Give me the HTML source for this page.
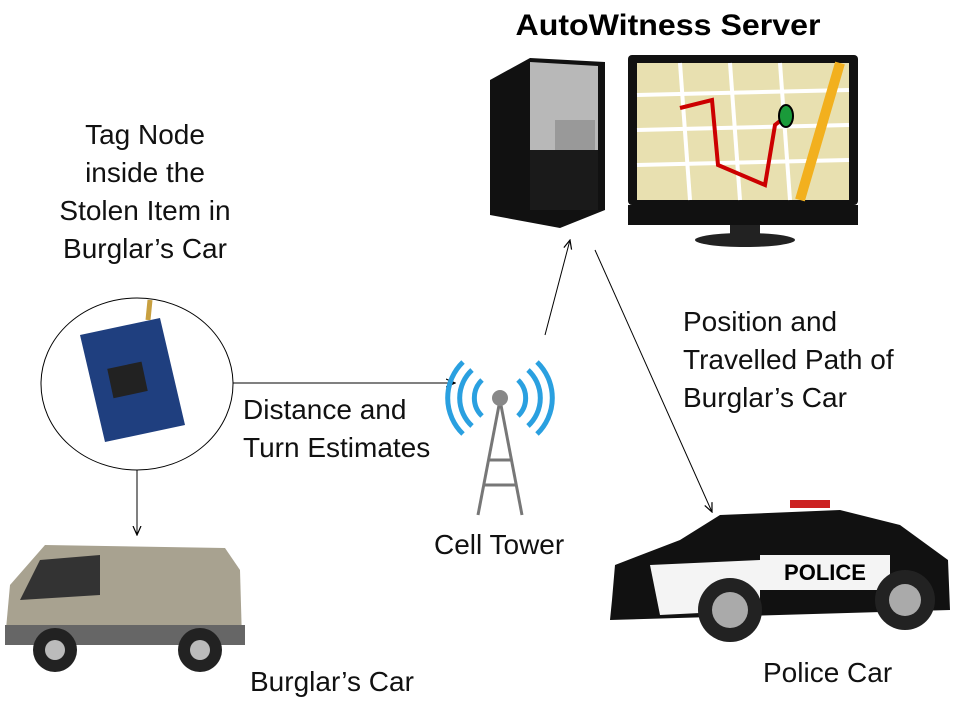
<!DOCTYPE html>
<html><head><meta charset="utf-8"><style>
body{margin:0;width:960px;height:720px;background:#fff;overflow:hidden;font-family:"Liberation Sans",sans-serif;}
.t{position:absolute;font-size:28px;color:#111;white-space:nowrap;line-height:38px;}
</style></head><body>
<svg width="960" height="720" style="position:absolute;left:0;top:0">
<defs><marker id="a" markerWidth="10" markerHeight="10" refX="9" refY="5" orient="auto"><path d="M0,1 L9,5 L0,9" fill="none" stroke="#000" stroke-width="1.2"/></marker></defs>
<text x="668" y="35" font-size="30" font-weight="bold" text-anchor="middle" font-family="Liberation Sans" textLength="305" lengthAdjust="spacingAndGlyphs">AutoWitness Server</text>
<!-- server tower -->
<polygon points="490,80 530,58 605,62 605,210 560,228 490,215" fill="#111"/>
<polygon points="530,62 598,66 598,150 530,150" fill="#b8b8b8"/>
<rect x="530" y="150" width="68" height="60" fill="#1a1a1a"/>
<rect x="555" y="120" width="40" height="30" fill="#999"/>
<!-- monitor -->
<rect x="628" y="55" width="230" height="150" rx="4" fill="#111"/>
<rect x="637" y="63" width="212" height="137" fill="#e8e0b0"/>
<g stroke="#fff" stroke-width="4"><line x1="637" y1="95" x2="849" y2="90"/><line x1="637" y1="130" x2="849" y2="125"/><line x1="637" y1="165" x2="849" y2="160"/><line x1="680" y1="63" x2="690" y2="200"/><line x1="730" y1="63" x2="740" y2="200"/><line x1="780" y1="63" x2="790" y2="200"/></g>
<line x1="800" y1="200" x2="840" y2="63" stroke="#f2b01e" stroke-width="10"/>
<polyline points="680,108 712,100 718,165 765,185 775,125 785,117" fill="none" stroke="#c00" stroke-width="4"/>
<ellipse cx="786" cy="116" rx="7" ry="11" fill="#1a9a3a" stroke="#000" stroke-width="2"/>
<rect x="628" y="205" width="230" height="20" fill="#111"/>
<rect x="730" y="225" width="30" height="12" fill="#222"/>
<ellipse cx="745" cy="240" rx="50" ry="7" fill="#222"/>
<!-- circle with chip -->
<ellipse cx="137" cy="384" rx="96" ry="86" fill="#fff" stroke="#000" stroke-width="1"/>
<polygon points="80,335 160,318 185,425 105,442" fill="#1f3f7f"/>
<rect x="110" y="365" width="35" height="30" fill="#222" transform="rotate(-12 127 380)"/>
<line x1="148" y1="320" x2="150" y2="300" stroke="#c8a040" stroke-width="5"/>
<!-- arrows -->
<line x1="233" y1="383" x2="455" y2="383" stroke="#000" marker-end="url(#a)"/>
<line x1="545" y1="335" x2="570" y2="240" stroke="#000" marker-end="url(#a)"/>
<line x1="595" y1="250" x2="712" y2="512" stroke="#000" marker-end="url(#a)"/>
<line x1="137" y1="470" x2="137" y2="535" stroke="#000" marker-end="url(#a)"/>
<!-- tower -->
<g stroke="#777" stroke-width="3" fill="none"><line x1="500" y1="400" x2="478" y2="515"/><line x1="500" y1="400" x2="522" y2="515"/><line x1="488" y1="460" x2="512" y2="460"/><line x1="484" y1="485" x2="516" y2="485"/></g>
<circle cx="500" cy="398" r="8" fill="#888"/>
<g stroke="#2aa0e0" stroke-width="5" fill="none"><path d="M482,380 A25,25 0 0 0 482,416"/><path d="M518,380 A25,25 0 0 1 518,416"/><path d="M472,370 A38,38 0 0 0 472,426"/><path d="M528,370 A38,38 0 0 1 528,426"/><path d="M463,362 A50,50 0 0 0 463,434"/><path d="M537,362 A50,50 0 0 1 537,434"/></g>
<!-- van -->
<path d="M5,640 L10,585 L45,545 L225,548 L240,570 L242,640 Z" fill="#a8a290"/>
<polygon points="40,560 100,555 100,595 20,600" fill="#333"/>
<rect x="5" y="625" width="240" height="20" fill="#666"/>
<circle cx="55" cy="650" r="22" fill="#222"/><circle cx="200" cy="650" r="22" fill="#222"/>
<circle cx="55" cy="650" r="10" fill="#bbb"/><circle cx="200" cy="650" r="10" fill="#bbb"/>
<!-- police car -->
<path d="M612,600 L615,565 L680,540 L720,515 L840,510 L900,525 L948,560 L950,610 L610,620 Z" fill="#111"/>
<path d="M650,565 L760,560 L760,610 L660,615 Z" fill="#f4f4f4"/>
<rect x="760" y="555" width="130" height="35" fill="#f4f4f4"/>
<text x="825" y="580" font-size="22" font-weight="bold" text-anchor="middle" font-family="Liberation Sans">POLICE</text>
<rect x="790" y="500" width="40" height="8" fill="#c22"/>
<circle cx="730" cy="610" r="32" fill="#222"/><circle cx="730" cy="610" r="18" fill="#aaa"/>
<circle cx="905" cy="600" r="30" fill="#222"/><circle cx="905" cy="600" r="16" fill="#aaa"/>
</svg>
<div class="t" style="left:35px;top:116px;width:220px;text-align:center">Tag Node<br>inside the<br>Stolen Item in<br>Burglar’s Car</div>
<div class="t" style="left:243px;top:391px">Distance and<br>Turn Estimates</div>
<div class="t" style="left:683px;top:303px">Position and<br>Travelled Path of<br>Burglar’s Car</div>
<div class="t" style="left:434px;top:526px">Cell Tower</div>
<div class="t" style="left:250px;top:663px">Burglar’s Car</div>
<div class="t" style="left:763px;top:654px">Police Car</div>
</body></html>
